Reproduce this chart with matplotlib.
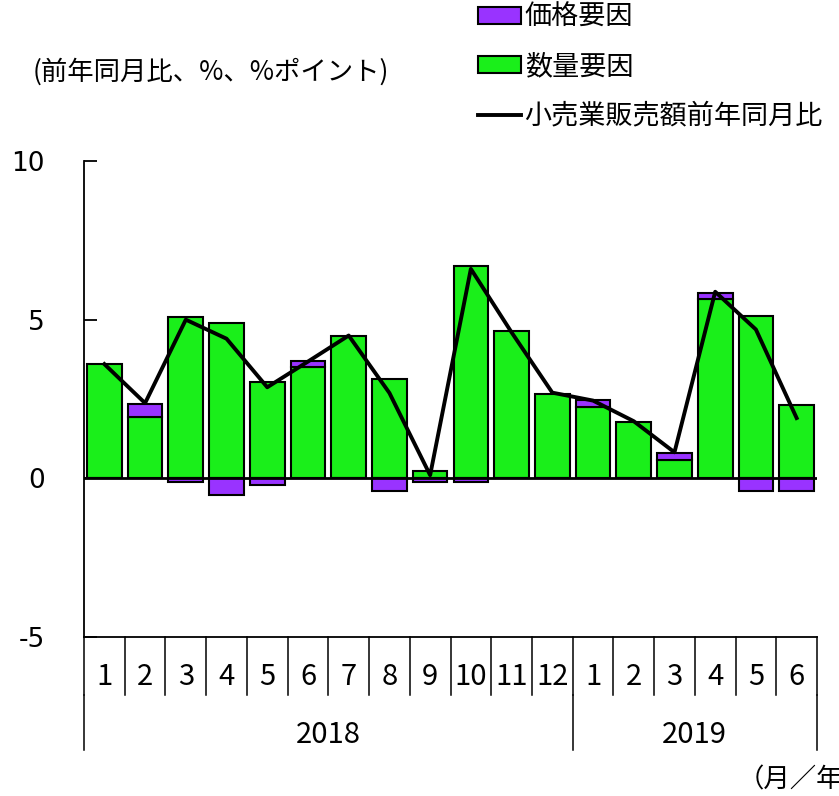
import numpy as np
import matplotlib
matplotlib.use("Agg")
import matplotlib.pyplot as plt
from matplotlib.patches import Patch
from matplotlib.lines import Line2D
import matplotlib.transforms as mtransforms

plt.rcParams['font.family'] = ['Noto Sans CJK JP', 'DejaVu Sans']

months = ['1', '2', '3', '4', '5', '6', '7', '8', '9', '10', '11', '12',
          '1', '2', '3', '4', '5', '6']
years = ['2018', '2019']
year_counts = [12, 6]

# 数量要因 (green), 価格要因 (purple), 小売業販売額前年同月比 (line)
volume = [3.6, 1.93, 5.08, 4.9, 3.05, 3.5, 4.5, 3.12, 0.23, 6.69, 4.63, 2.67,
          2.25, 1.79, 0.59, 5.64, 5.11, 2.32]
price = [0.0, 0.42, -0.1, -0.51, -0.2, 0.21, 0.0, -0.4, -0.1, -0.1, 0.0, 0.0,
         0.22, 0.0, 0.21, 0.21, -0.4, -0.4]
sales = [3.6, 2.37, 5.0, 4.4, 2.87, 3.68, 4.5, 2.69, 0.1, 6.6, 4.6, 2.7,
         2.45, 1.8, 0.82, 5.88, 4.69, 1.9]

green = '#1aef1a'
purple = '#9933ff'

W, H = 839, 796
fig = plt.figure(figsize=(W / 100, H / 100), dpi=100)
ax = fig.add_axes([84 / W, (H - 637) / H, (817 - 84) / W, (637 - 161) / H])

x = np.arange(len(months))
volume = np.array(volume)
price = np.array(price)
price_bottom = np.where(price > 0, volume, 0)

ax.bar(x, volume, width=0.85, color=green, edgecolor='black', linewidth=1.5, zorder=2)
ax.bar(x, price, bottom=price_bottom, width=0.85, color=purple, edgecolor='black',
       linewidth=1.5, zorder=2)
ax.axhline(0, color='black', lw=2, zorder=3)
ax.plot(x, sales, color='black', lw=2.8, zorder=4)

ax.set_xlim(-0.5, len(months) - 0.5)
ax.set_ylim(-5, 10)
ax.set_yticks([-5, 0, 5, 10])
ax.set_yticklabels(['-5', '0', '5', '10'], family='DejaVu Sans', fontsize=19)
ax.tick_params(axis='y', direction='in', length=9, width=1.3, pad=28)
ax.set_xticks([])
for s in ['top', 'right']:
    ax.spines[s].set_visible(False)
ax.spines['left'].set_linewidth(1.3)
ax.spines['bottom'].set_linewidth(1.3)

# category axis drawn below the plot
trans = mtransforms.blended_transform_factory(ax.transData, ax.transAxes)
for i in range(len(months) + 1):
    ax.plot([i - 0.5, i - 0.5], [0, -0.122], transform=trans, color='black',
            lw=1.1, clip_on=False)
for i, m in enumerate(months):
    ax.text(i, -0.085, m, transform=trans, ha='center', va='center', fontsize=21)
edges = np.concatenate([[0], np.cumsum(year_counts)]) - 0.5
for e in edges:
    ax.plot([e, e], [-0.122, -0.237], transform=trans, color='black',
            lw=1.1, clip_on=False)
for j, yr in enumerate(years):
    ax.text((edges[j] + edges[j + 1]) / 2, -0.206, yr, transform=trans,
            ha='center', va='center', fontsize=21)

handles = [Patch(facecolor=purple, edgecolor='black', linewidth=1.5),
           Patch(facecolor=green, edgecolor='black', linewidth=1.5),
           Line2D([0], [0], color='black', lw=2.8)]
labels = ['価格要因', '数量要因', '小売業販売額前年同月比']
fig.legend(handles, labels, loc='upper left', bbox_to_anchor=(478 / W, 1 - 4 / H),
           frameon=False, fontsize=19.5, handlelength=1.6, handleheight=0.55,
           handletextpad=0.12, labelspacing=0.82, borderpad=0, borderaxespad=0)

fig.text(33 / W, 1 - 72 / H, '(前年同月比、%、%ポイント)', ha='left', va='center',
         fontsize=19)
fig.text(738 / W, 1 - 780 / H, '（月／年）', ha='left', va='center', fontsize=19)

fig.savefig('out.png', dpi=100)
